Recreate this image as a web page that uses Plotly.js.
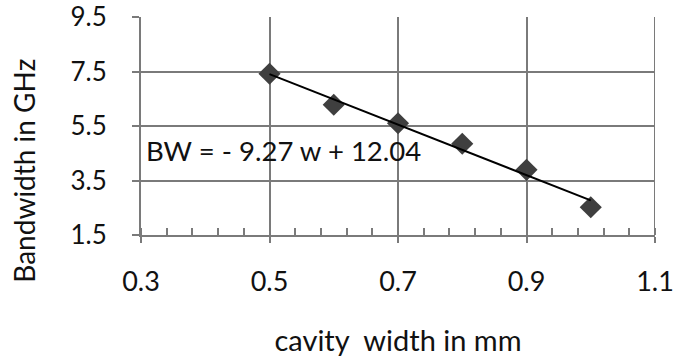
<!DOCTYPE html>
<html><head><meta charset="utf-8">
<script src="https://cdn.plot.ly/plotly-3.0.1.min.js"></script>
<style>html,body{margin:0;padding:0;background:#fff;}#chart{width:673px;height:360px;}</style>
</head><body><div id="chart"></div>
<script>
const widths = [0.5, 0.6, 0.7, 0.8, 0.9, 1.0];
const bandwidth = [7.42, 6.28, 5.6, 4.85, 3.89, 2.52];
const slope = -9.27;
const intercept = 12.04;
const fitX = [0.5, 1.0];
const xTicks = [0.3, 0.5, 0.7, 0.9, 1.1];
const yTicks = [1.5, 3.5, 5.5, 7.5, 9.5];
const fitY = fitX.map(w => slope * w + intercept);

const FONT = 'Lato, "Open Sans", sans-serif';
const grid = '#7a7a7a';

const traces = [
  {x: widths, y: bandwidth, mode: 'markers', type: 'scatter',
   marker: {symbol: 'diamond', size: 17, color: '#3f3f3f'}, showlegend: false, hoverinfo: 'x+y'},
  {x: fitX, y: fitY, mode: 'lines', type: 'scatter',
   line: {color: '#000', width: 2}, showlegend: false}
];

const layout = {
  width: 673, height: 360,
  margin: {l: 141, r: 18, t: 17, b: 125},
  paper_bgcolor: '#fff', plot_bgcolor: '#fff',
  font: {family: FONT, size: 24, color: '#111'},
  xaxis: {
    range: [0.3, 1.1], tickvals: xTicks, ticktext: xTicks.map(v => v.toFixed(1)),
    tickfont: {size: 27, family: FONT, color: '#111'},
    ticklabeloverflow: 'allow',
    showgrid: true, gridcolor: grid, gridwidth: 2,
    showline: true, linecolor: grid, linewidth: 2, mirror: false,
    ticks: 'outside', ticklen: 6, tickwidth: 2, tickcolor: grid,
    ticklabelstandoff: 16, zeroline: false,
    minor: {dtick: 0.04, tick0: 0.3, ticks: 'inside', ticklen: 7, tickwidth: 2, tickcolor: grid, showgrid: false},
    title: {text: 'cavity  width in mm', font: {size: 29, family: FONT, color: '#111'}, standoff: 34}
  },
  yaxis: {
    range: [1.5, 9.5], tickvals: yTicks, ticktext: yTicks.map(v => v.toFixed(1)),
    tickfont: {size: 26, family: FONT, color: '#111'},
    showgrid: true, gridcolor: grid, gridwidth: 2,
    showline: true, linecolor: grid, linewidth: 2,
    ticks: 'outside', ticklen: 7, tickwidth: 2, tickcolor: grid,
    ticklabelstandoff: 20, zeroline: false
  },
  shapes: [
    {type: 'line', xref: 'x', yref: 'paper', x0: 1.1, x1: 1.1, y0: 0, y1: 1, line: {color: grid, width: 2}}
  ],
  annotations: [
    {xref: 'paper', yref: 'paper', x: -0.228, y: 0.294, text: 'Bandwidth in GHz', textangle: -90,
     showarrow: false, font: {size: 28, family: FONT, color: '#111'}, xanchor: 'center', yanchor: 'middle'},
    {xref: 'x', yref: 'y', x: 0.305, y: 4.6, xanchor: 'left', yanchor: 'middle',
     text: 'BW = - 9.27 w + 12.04', showarrow: false, font: {size: 27.5, family: FONT, color: '#111'}}
  ]
};

Plotly.newPlot('chart', traces, layout, {displayModeBar: false, staticPlot: true});
</script></body></html>
